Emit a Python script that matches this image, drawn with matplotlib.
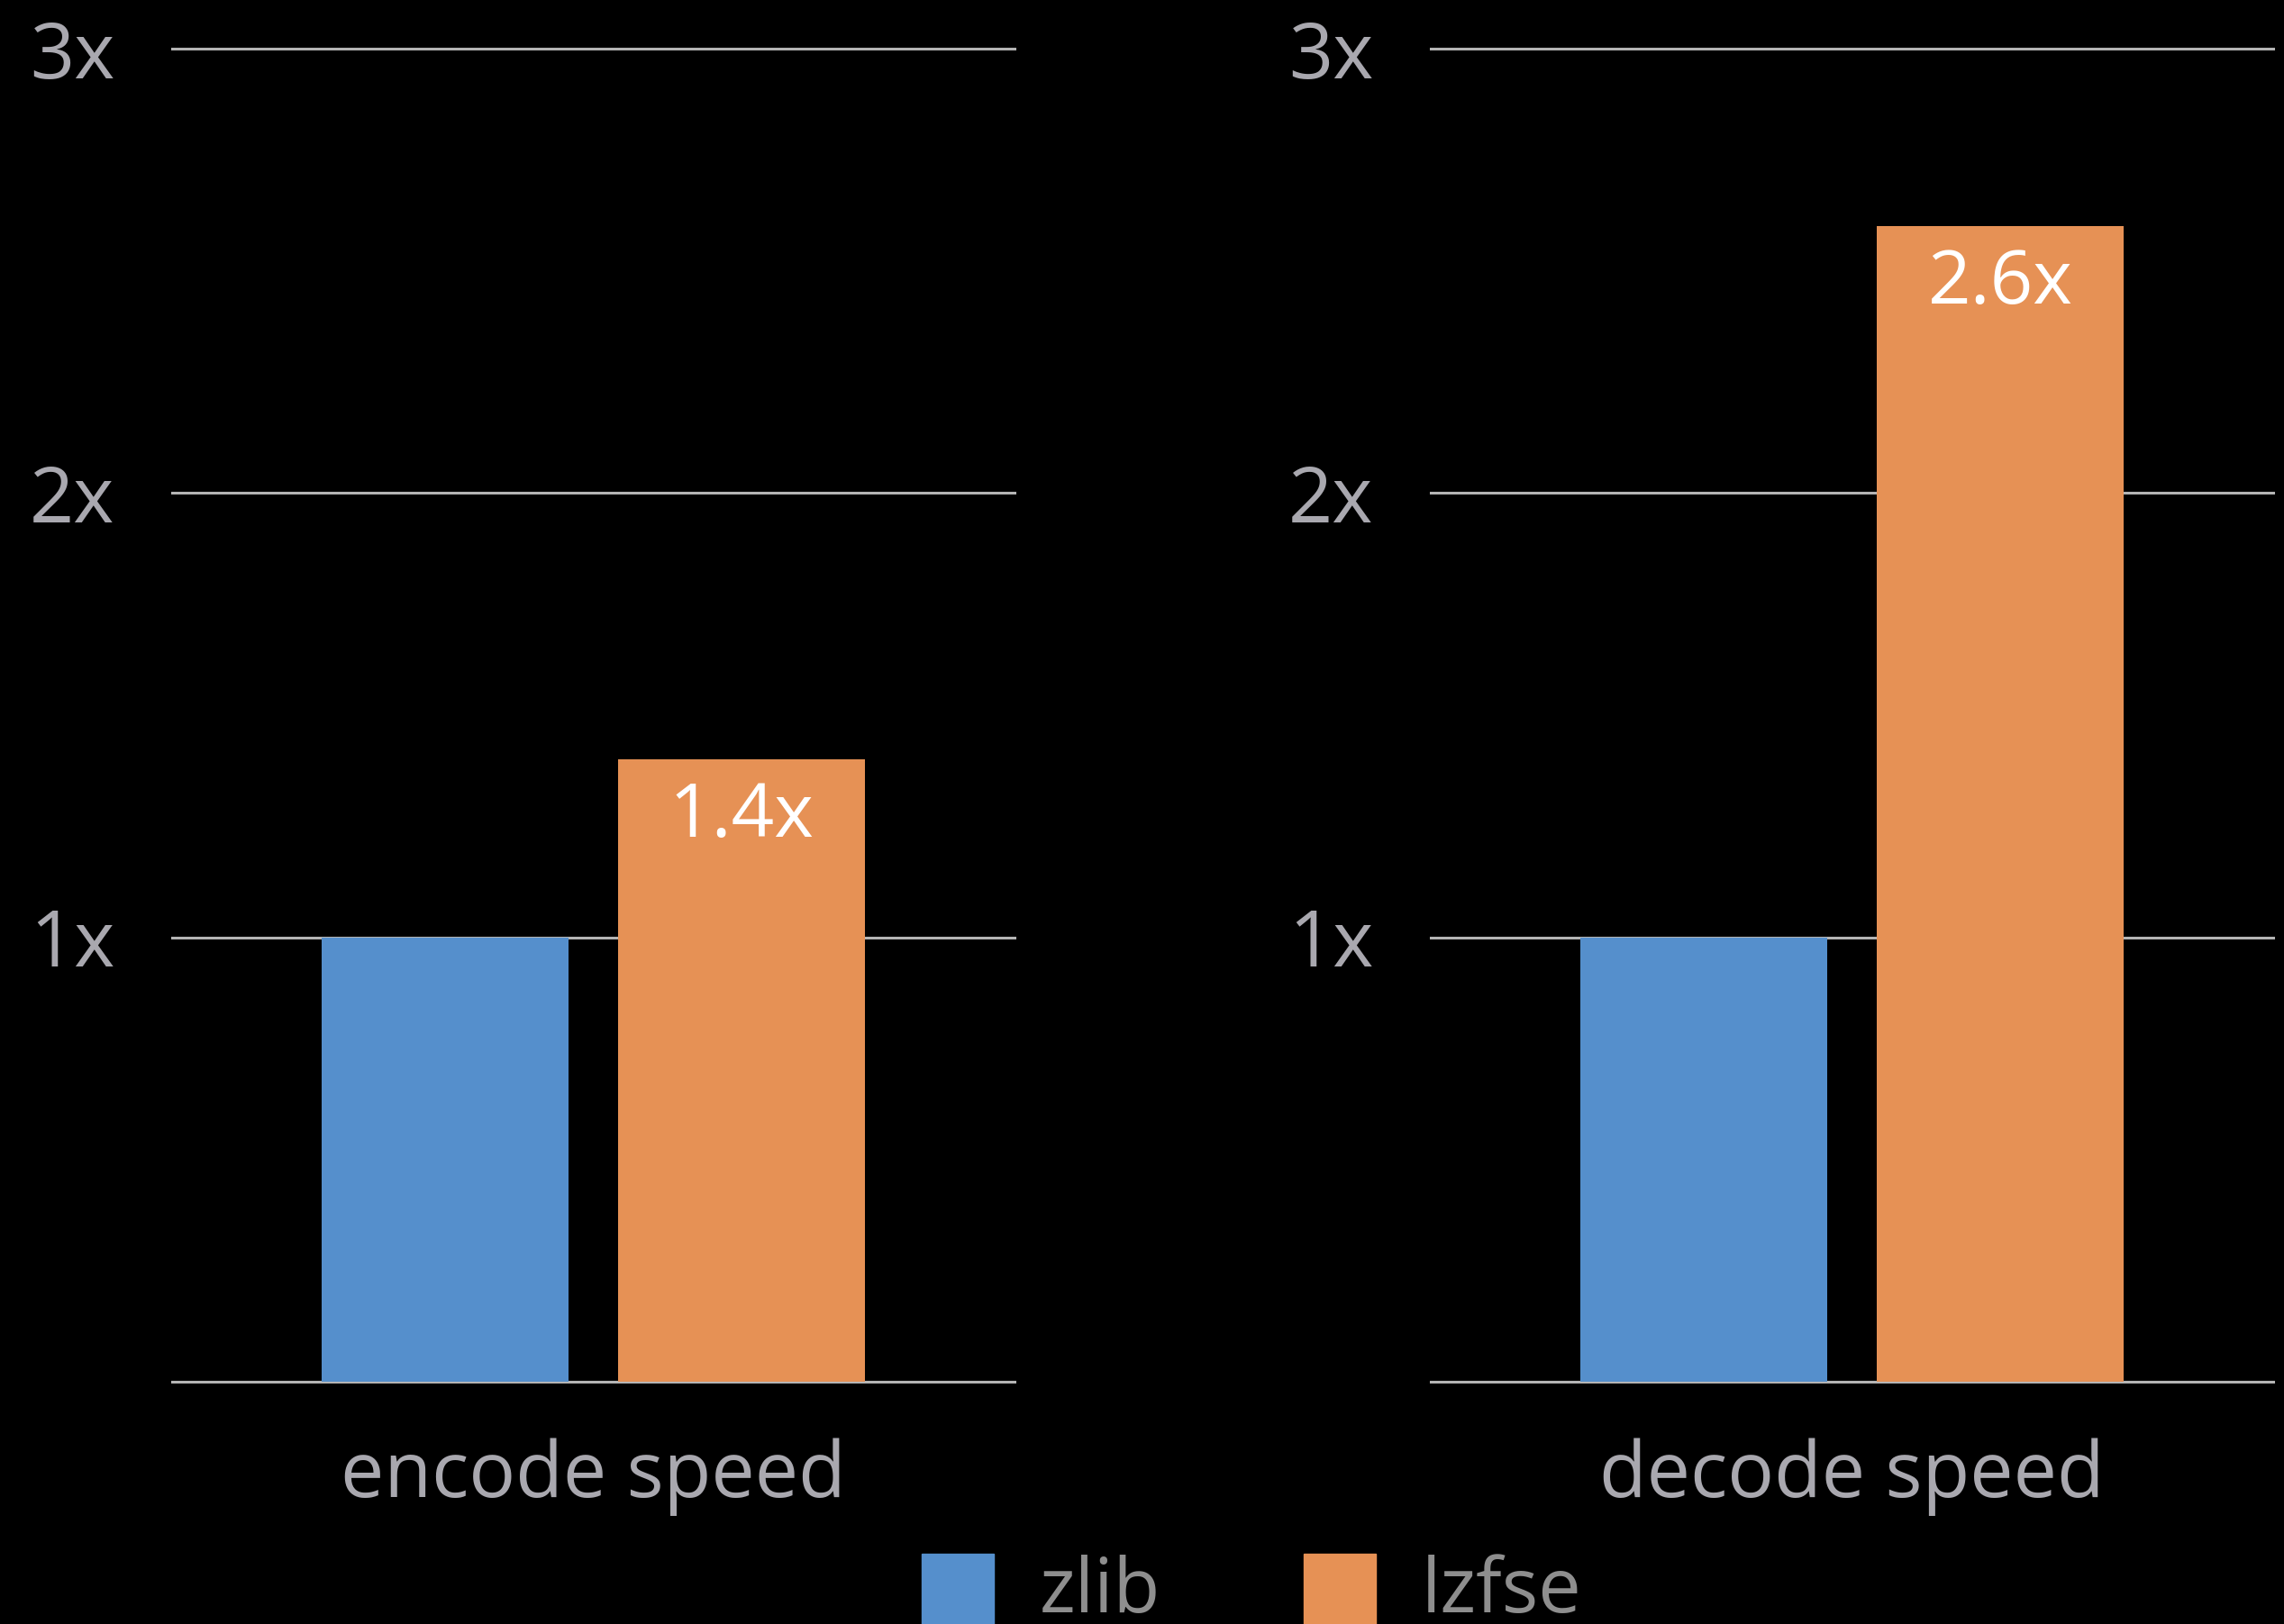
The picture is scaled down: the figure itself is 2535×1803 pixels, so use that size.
import matplotlib.pyplot as plt
from matplotlib.patches import Rectangle

# speed relative to zlib, one panel per operation
panels = ["encode speed", "decode speed"]
series = ["zlib", "lzfse"]
zlib_speed = [1.0, 1.0]
lzfse_speed = [1.4, 2.6]
y_ticks = [0, 1, 2, 3]
y_tick_labels = ["", "1x", "2x", "3x"]

colors = ["#558fcc", "#e69155"]
tick_color = "#a9a8af"
legend_color = "#8e8e8e"
grid_color = "#b4b4b4"

W, H = 2535, 1803
plt.rcParams['font.family'] = ['Open Sans', 'DejaVu Sans']

fig = plt.figure(figsize=(W / 100, H / 100), dpi=100, facecolor="black")

# axes rectangles in pixels: (left, right)
ax_left_px = [191, 1588]
ax_width_px = 935
y_bottom_px, y_top_px = 1534, 54

values = list(zip(zlib_speed, lzfse_speed))

for i, name in enumerate(panels):
    ax = fig.add_axes([ax_left_px[i] / W, (H - y_bottom_px) / H,
                       ax_width_px / W, (y_bottom_px - y_top_px) / H])
    ax.set_facecolor("black")
    ax.set_xlim(-0.92, 1.92)
    ax.set_ylim(0, 3)

    for j, v in enumerate(values[i]):
        ax.bar(j, v, width=0.83, color=colors[j], zorder=3)
    # value label on the lzfse bar
    v = values[i][1]
    ax.annotate(f"{v:g}x", xy=(1, v), xytext=(0, -62), textcoords="offset points",
                ha="center", va="baseline", color="white", fontsize=60)

    for t in y_ticks:
        ax.axhline(t, color=grid_color, lw=2.2, zorder=1, clip_on=False)

    ax.set_yticks(y_ticks)
    ax.set_yticklabels(y_tick_labels)
    ax.tick_params(axis="y", length=0, pad=46, labelsize=62, labelcolor=tick_color)
    for lbl in ax.get_yticklabels():
        lbl.set_y(lbl.get_position()[1])
    ax.set_xticks([])
    for s in ax.spines.values():
        s.set_visible(False)

    ax.annotate(name, xy=(0.5, 0), xycoords="axes fraction", xytext=(0, -92.5),
                textcoords="offset points", ha="center", va="baseline",
                color=tick_color, fontsize=62)

# legend along the bottom edge
leg_x = [1023, 1447]
for k, name in enumerate(series):
    fig.add_artist(Rectangle((leg_x[k] / W, (H - 1805) / H), 80 / W, 80 / H,
                             transform=fig.transFigure, color=colors[k]))
    fig.text((leg_x[k] + 131) / W, (H - 1790) / H, name, ha="left", va="baseline",
             color=legend_color, fontsize=61)

fig.savefig("out.png", dpi=100, facecolor="black")
